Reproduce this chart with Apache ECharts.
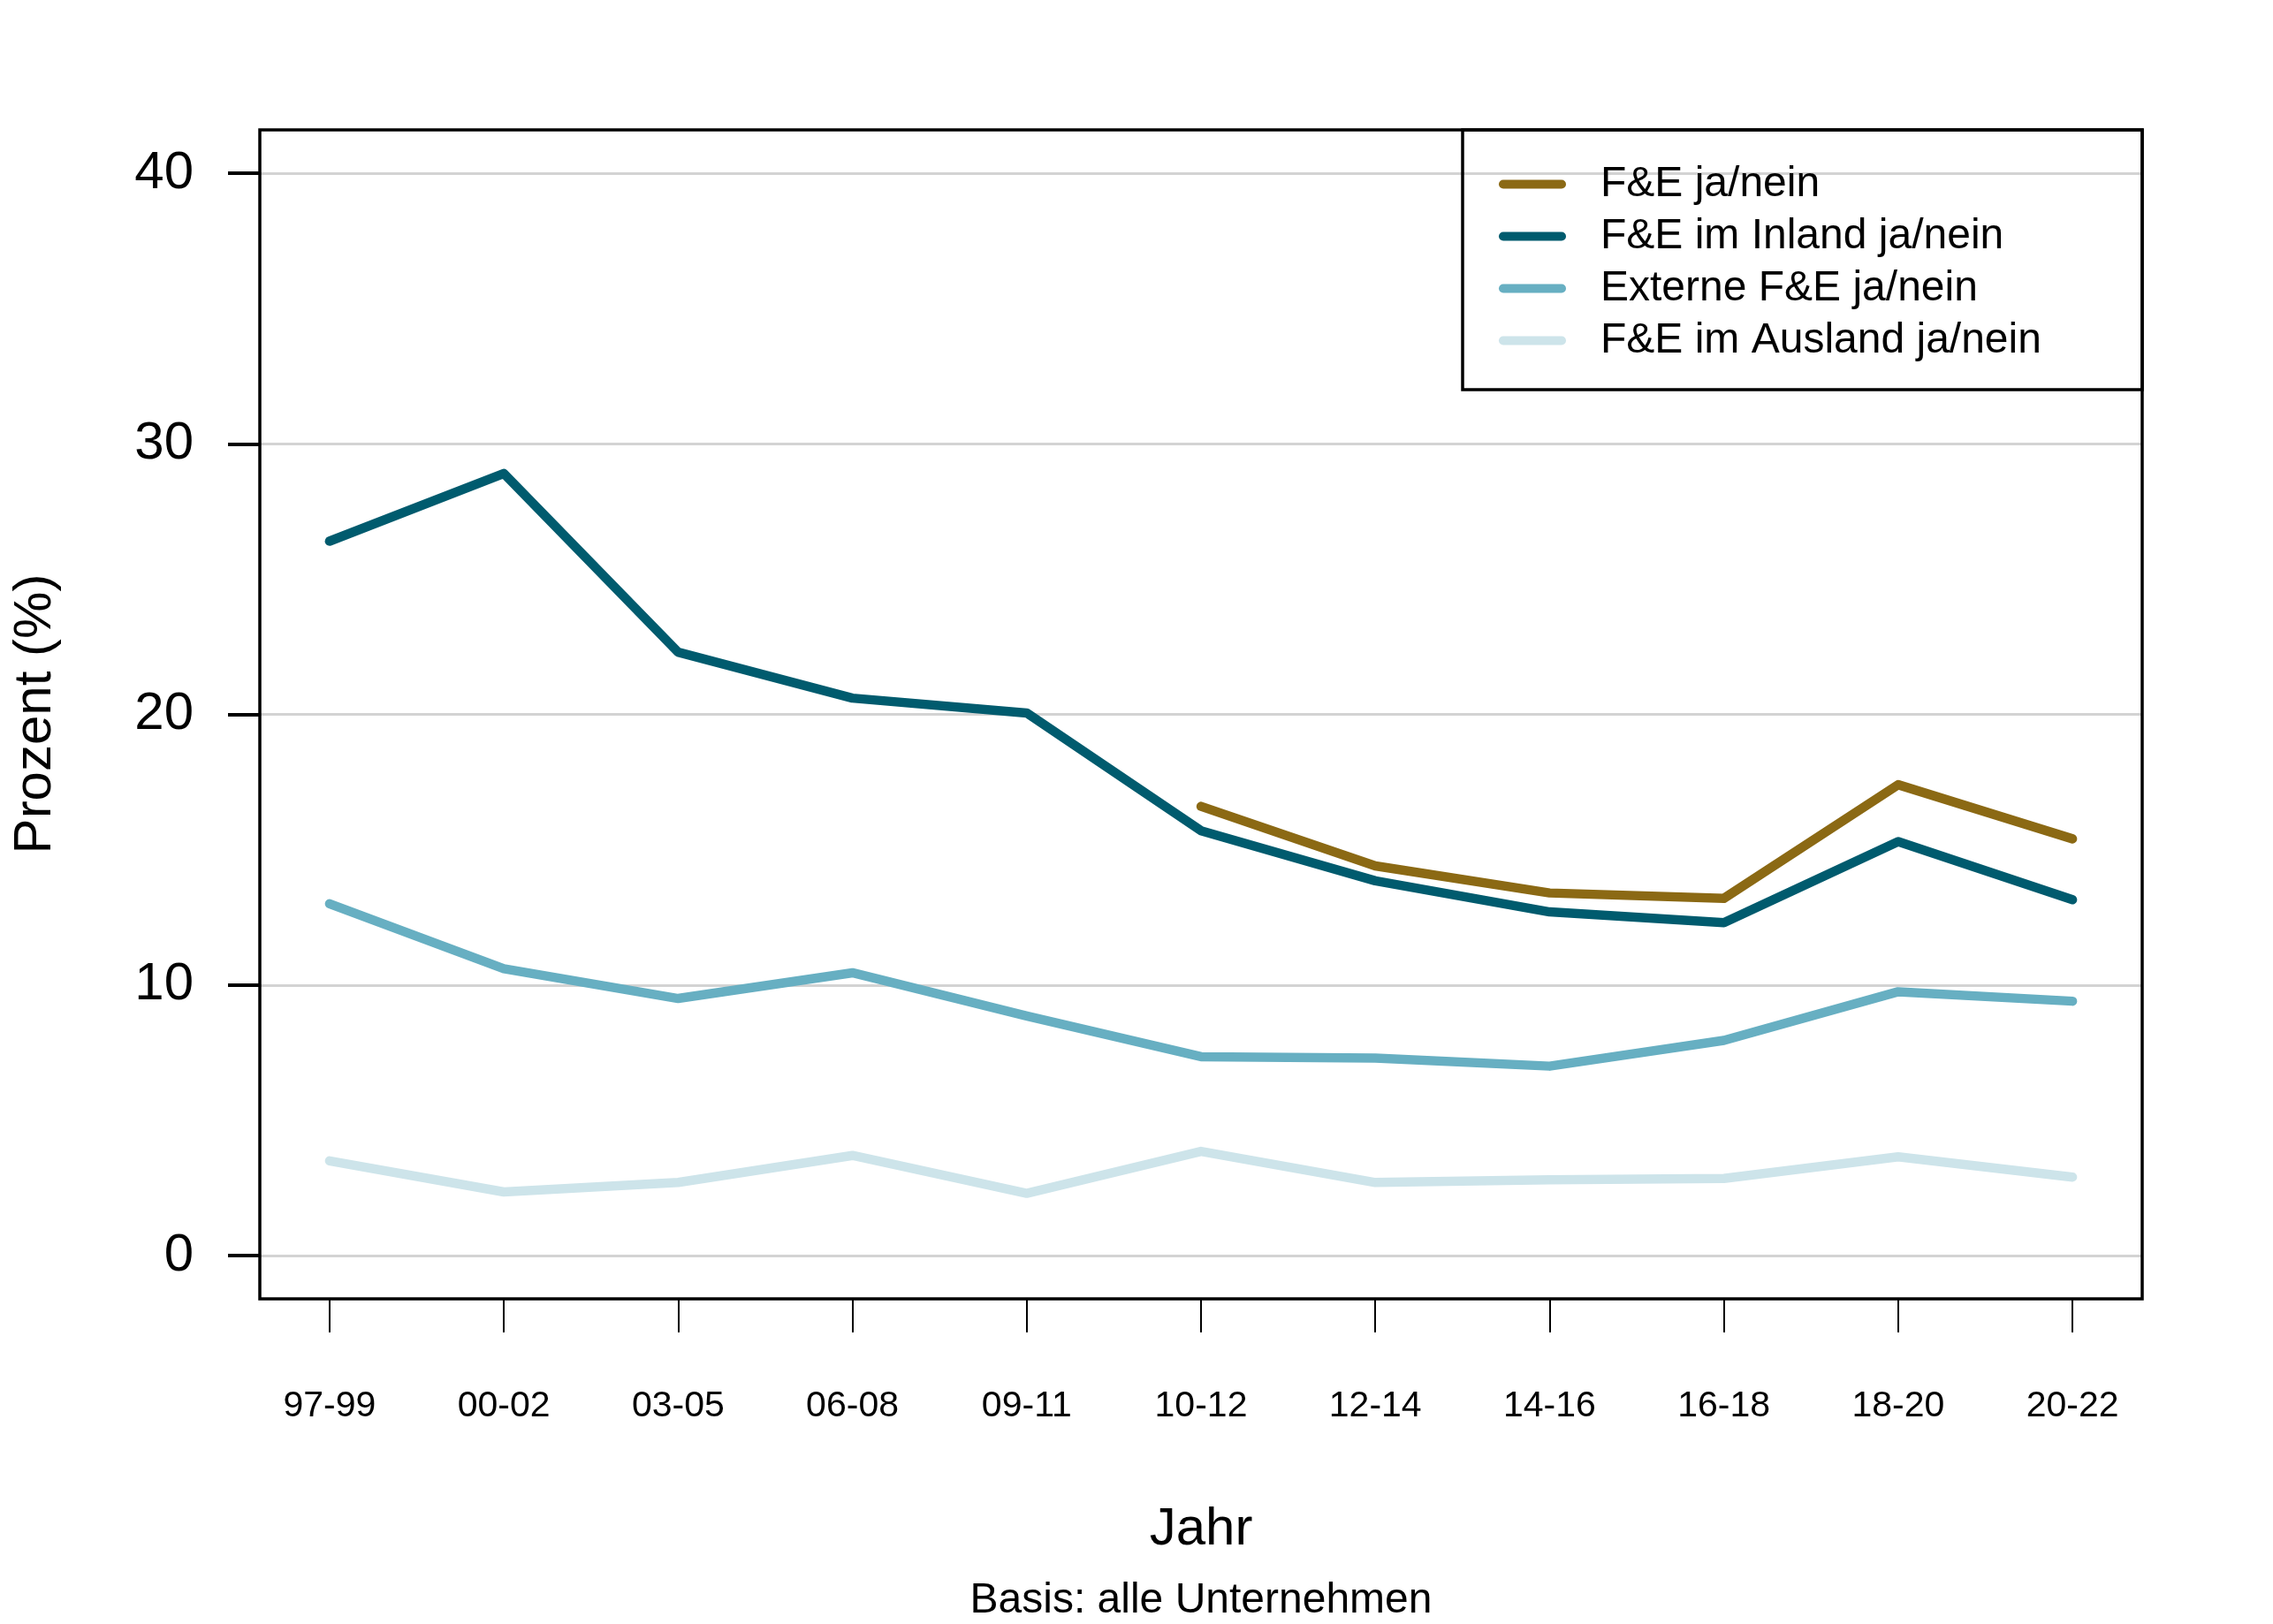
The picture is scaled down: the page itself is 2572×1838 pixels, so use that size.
<!DOCTYPE html>
<html>
<head>
<meta charset="utf-8">
<script src="https://cdn.jsdelivr.net/npm/echarts@6/dist/echarts.min.js"></script>
<style>
html,body{margin:0;padding:0;background:#fff;}
#chart{width:2572px;height:1838px;}
</style>
</head>
<body>
<div id="chart"></div>
<script>
const categories = ['97-99','00-02','03-05','06-08','09-11','10-12','12-14','14-16','16-18','18-20','20-22'];
const seriesNames = ['F&E ja/nein','F&E im Inland ja/nein','Externe F&E ja/nein','F&E im Ausland ja/nein'];
const feJaNein   = [null, null, null, null, null, 16.6, 14.4, 13.4, 13.2, 17.4, 15.4];
const feInland   = [26.4, 28.9, 22.3, 20.6, 20.05, 15.7, 13.85, 12.7, 12.3, 15.3, 13.15];
const feExtern   = [13.0, 10.6, 9.5, 10.45, 8.85, 7.35, 7.3, 7.0, 7.95, 9.75, 9.4];
const feAusland  = [3.5, 2.35, 2.7, 3.7, 2.3, 3.85, 2.7, 2.8, 2.85, 3.65, 2.9];
const yTicks = [0, 10, 20, 30, 40];
const xTitle = 'Jahr';
const yTitle = 'Prozent (%)';
const subtitle = 'Basis: alle Unternehmen';

const colors = ['#8B6914', '#005B6E', '#67AFC2', '#CDE4EA'];
const seriesData = [feJaNein, feInland, feExtern, feAusland];
const FONT = '"Liberation Sans", Arial, Helvetica, sans-serif';

const chart = echarts.init(document.getElementById('chart'), null, {renderer: 'canvas'});
const idx = categories.map((c, i) => i);

const option = {
  backgroundColor: '#ffffff',
  animation: false,
  grid: {
    left: 294, top: 147, right: 148, bottom: 368,
    show: true, borderColor: '#000', borderWidth: 3.5, backgroundColor: 'transparent', z: 3
  },
  xAxis: {
    type: 'value', min: -0.4, max: 10.4,
    axisLine: {show: false, onZero: false},
    splitLine: {show: false},
    axisTick: {show: true, length: 38, lineStyle: {color: '#000', width: 2}, customValues: idx},
    axisLabel: {
      show: true, customValues: idx, margin: 101,
      formatter: v => categories[Math.round(v)],
      color: '#000', fontSize: 41, fontFamily: FONT
    }
  },
  yAxis: {
    type: 'value', min: -1.6, max: 41.6,
    axisLine: {show: false, onZero: false},
    splitLine: {show: true, lineStyle: {color: '#D3D3D3', width: 3}},
    axisTick: {show: true, length: 36, lineStyle: {color: '#000', width: 4}, customValues: yTicks},
    axisLabel: {
      show: true, customValues: yTicks, margin: 75,
      color: '#000', fontSize: 60, fontFamily: FONT
    }
  },
  legend: {
    orient: 'vertical', left: 1696, top: 179, padding: 0, itemGap: 0,
    itemWidth: 76, itemHeight: 10,
    icon: 'path://M5 0H71A5 5 0 0 1 71 10H5A5 5 0 0 1 5 0Z',
    textStyle: {color: '#000', fontSize: 48, fontFamily: FONT, lineHeight: 59, padding: [0, 0, 0, 34]},
    data: seriesNames,
    selectedMode: false
  },
  graphic: [
    {type: 'rect', z: 10, shape: {x: 1655, y: 147, width: 769, height: 294},
     style: {fill: 'none', stroke: '#000', lineWidth: 3.5}},
    {type: 'text', z: 10, x: 40, y: 808, rotation: Math.PI / 2,
     style: {text: yTitle, fill: '#000', font: '60px ' + FONT, textAlign: 'center', textVerticalAlign: 'middle'}},
    {type: 'text', z: 10, x: 1359, y: 1731,
     style: {text: xTitle, fill: '#000', font: '60px ' + FONT, textAlign: 'center', textVerticalAlign: 'middle'}},
    {type: 'text', z: 10, x: 1359, y: 1812,
     style: {text: subtitle, fill: '#000', font: '48px ' + FONT, textAlign: 'center', textVerticalAlign: 'middle'}}
  ],
  series: seriesNames.map((name, s) => ({
    name: name,
    type: 'line',
    data: seriesData[s].map((v, i) => [i, v]),
    showSymbol: false,
    symbol: 'none',
    connectNulls: false,
    color: colors[s],
    itemStyle: {color: colors[s]},
    lineStyle: {color: colors[s], width: 10.5, cap: 'round', join: 'round'},
    z: 5 - s
  }))
};
chart.setOption(option);
</script>
</body>
</html>
